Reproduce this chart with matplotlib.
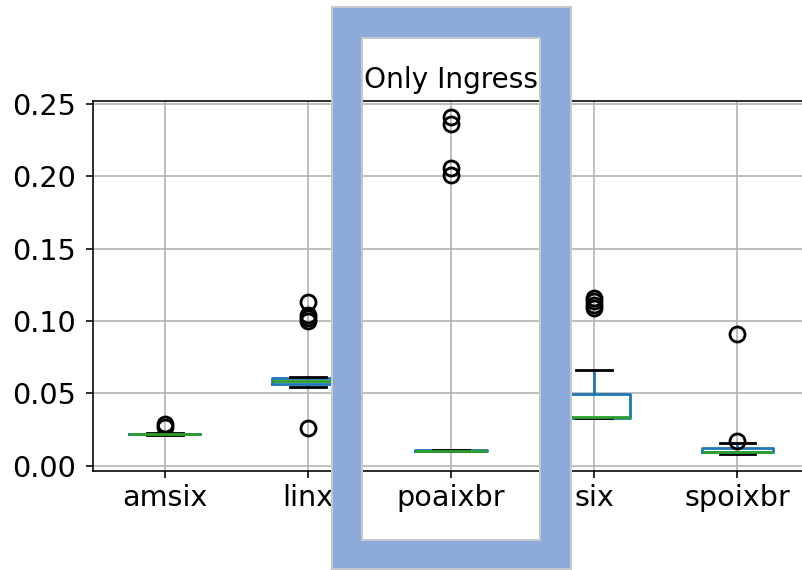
import numpy as np
import matplotlib
matplotlib.use('Agg')
from matplotlib import pyplot as plt
from matplotlib.path import Path
from matplotlib.patches import PathPatch


#box statistics:
labels  = ['amsix', 'linx', 'poaixbr', 'six', 'spoixbr']
q1      = [0.0216, 0.0565, 0.0102, 0.0333, 0.0092]
median  = [0.0219, 0.0588, 0.0104, 0.0334, 0.0094]
q3      = [0.0221, 0.0604, 0.0106, 0.0496, 0.0120]
whislo  = [0.0213, 0.0546, 0.0100, 0.0328, 0.0083]
whishi  = [0.0225, 0.0613, 0.0108, 0.0664, 0.0158]
fliers  = [
    [0.0288, 0.0265],
    [0.113, 0.104, 0.102, 0.100, 0.0258],
    [0.2408, 0.2360, 0.2056, 0.2009],
    [0.116, 0.114, 0.111, 0.109],
    [0.091, 0.0171],
]

stats = [dict(label=l, q1=a, med=m, q3=b, whislo=lo, whishi=hi, fliers=f)
         for l, a, m, b, lo, hi, f in zip(labels, q1, median, q3, whislo, whishi, fliers)]


#plot:
W, H, DPI = 802, 570, 144
LW = 1.4
plt.close('all')
fig = plt.figure(figsize=(W/DPI, H/DPI), dpi=DPI)
ax  = fig.add_axes([93/W, 1-470.5/H, 716/W, 370/H])
ax.bxp(stats, widths=0.5,
       boxprops=dict(color='#1f77b4', lw=LW),
       whiskerprops=dict(color='#1f77b4', lw=LW),
       medianprops=dict(color='#2ca02c', lw=LW),
       capprops=dict(color='black', lw=LW),
       flierprops=dict(marker='o', markersize=7.5, markeredgewidth=LW,
                       markerfacecolor='none', markeredgecolor='black'))
ax.grid(True)
ax.tick_params(labelsize=14.3)
ax.tick_params(axis='y', pad=5)
ax.set_title('Only Ingress', fontsize=14)

#highlight frame around poaixbr (pixel coords -> figure fraction)
def rect(x0, y0, x1, y1, reverse=False):
    pts = [(x0, y0), (x1, y0), (x1, y1), (x0, y1)]
    if reverse:
        pts = pts[::-1]
    pts = [(x/W, 1-y/H) for x, y in pts]
    return pts + [pts[0]]

verts = rect(332, 7, 571, 569) + rect(362, 38, 540, 540, reverse=True)
codes = ([Path.MOVETO] + [Path.LINETO]*3 + [Path.CLOSEPOLY]) * 2
frame = PathPatch(Path(verts, codes), facecolor='#8eaadb', edgecolor='#c4c8cf',
                  lw=1, transform=fig.transFigure, zorder=5)
fig.add_artist(frame)

fig.savefig('out.png', dpi=DPI)
